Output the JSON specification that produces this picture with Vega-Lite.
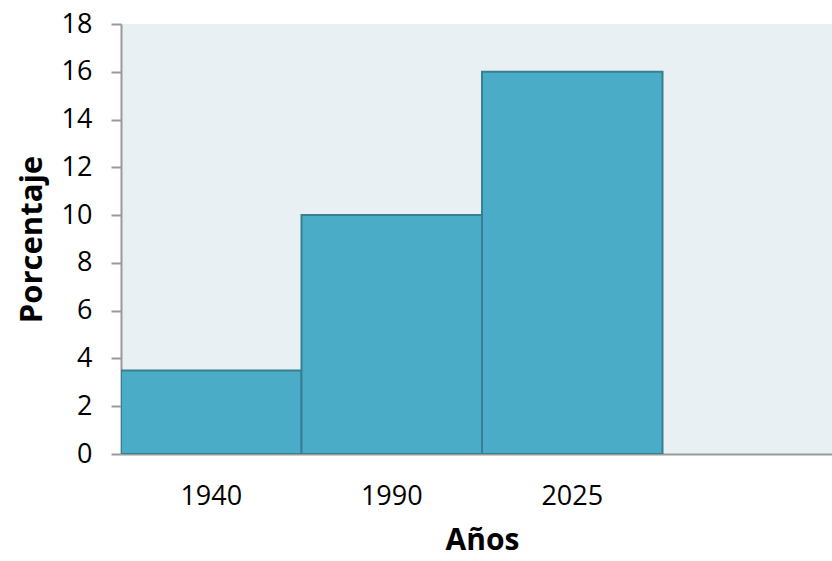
{
  "$schema": "https://vega.github.io/schema/vega-lite/v6.json",
  "autosize": "none",
  "padding": {"left": 121, "top": 24, "right": 0, "bottom": 107},
  "width": 711,
  "height": 430,
  "background": "white",
  "config": {
    "view": {"fill": "#E8F0F3", "stroke": null},
    "font": "Open Sans"
  },
  "data": {
    "values": [
      {"anio": "1940", "porcentaje": 3.5},
      {"anio": "1990", "porcentaje": 10},
      {"anio": "2025", "porcentaje": 16}
    ]
  },
  "mark": {"type": "bar", "fill": "#4AACC6", "stroke": "#377F92", "strokeWidth": 2, "clip": true},
  "encoding": {
    "x": {
      "field": "anio",
      "type": "nominal",
      "scale": {"domain": ["1940", "1990", "2025", " "], "range": [0, 722], "paddingInner": 0, "paddingOuter": 0},
      "axis": {
        "title": "Años",
        "titleFontSize": 30,
        "titleFontWeight": "bold",
        "titleColor": "black",
        "titlePadding": 16,
        "labelFontSize": 27,
        "labelColor": "black",
        "labelPadding": 29,
        "labelAngle": 0,
        "ticks": false,
        "domainColor": "#999999",
        "domainWidth": 2,
        "grid": false
      }
    },
    "y": {
      "field": "porcentaje",
      "type": "quantitative",
      "scale": {"domain": [0, 18]},
      "axis": {
        "title": "Porcentaje",
        "titleFontSize": 31,
        "titleFontWeight": "bold",
        "titleColor": "black",
        "titlePadding": 13,
        "values": [0, 2, 4, 6, 8, 10, 12, 14, 16, 18],
        "labelFontSize": 27,
        "labelColor": "black",
        "labelPadding": 19,
        "tickSize": 10,
        "tickColor": "#999999",
        "tickWidth": 2,
        "domainColor": "#999999",
        "domainWidth": 2,
        "grid": false
      }
    }
  }
}
